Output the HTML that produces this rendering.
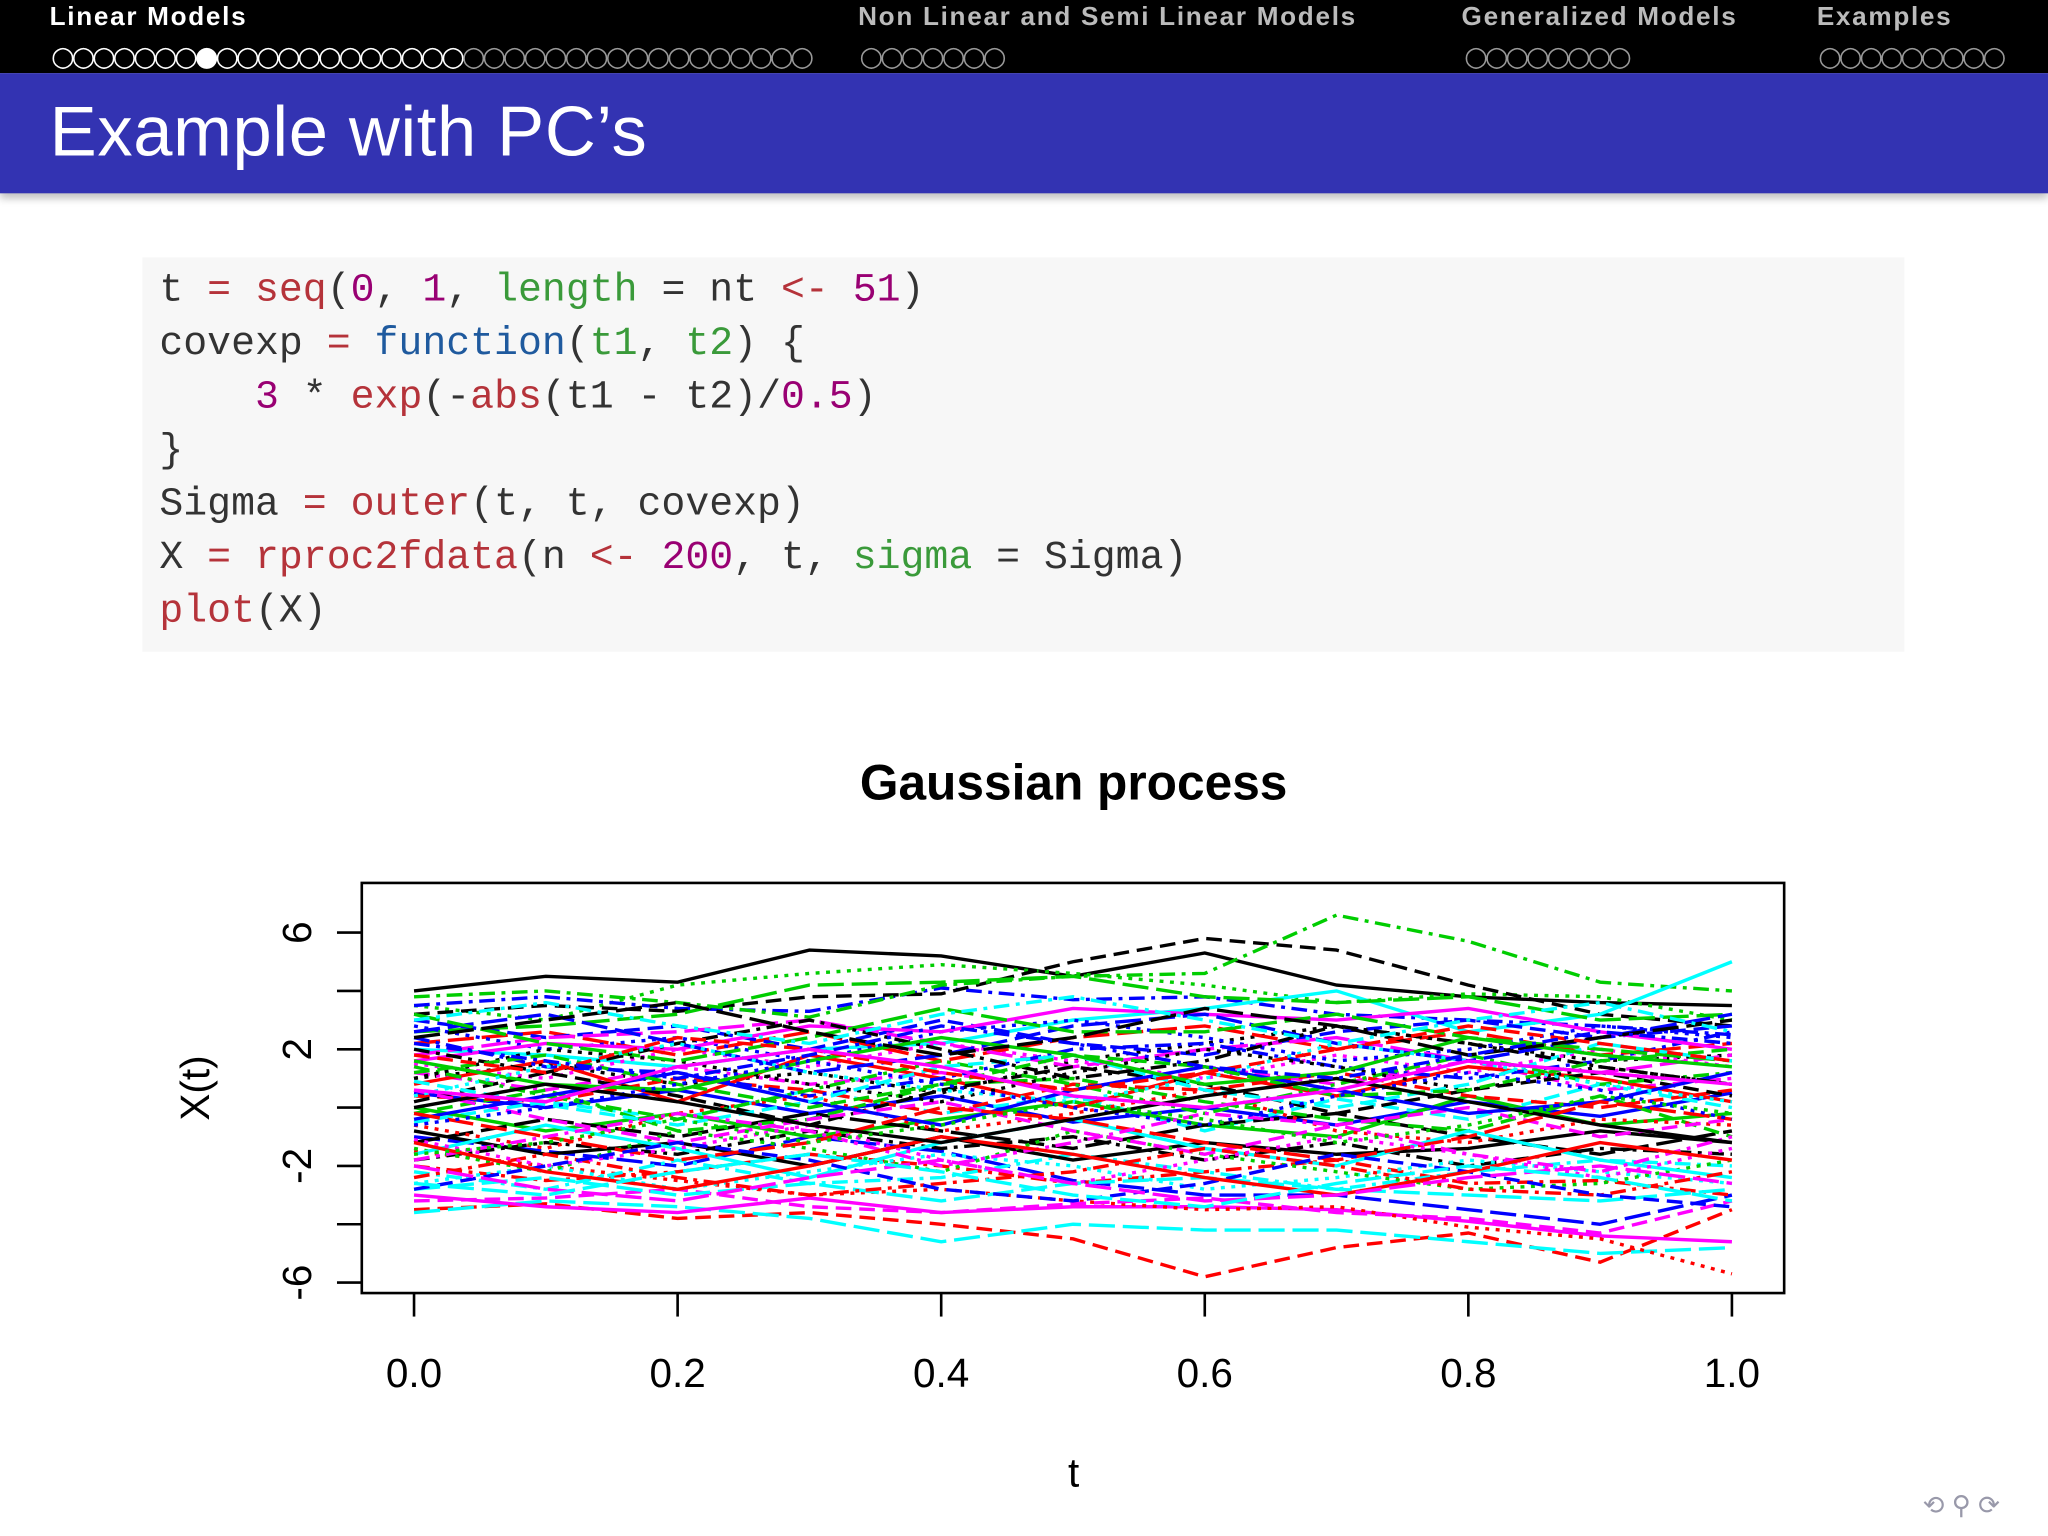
<!DOCTYPE html>
<html><head><meta charset="utf-8">
<style>
html,body{margin:0;padding:0;width:2048px;height:1536px;overflow:hidden;background:#fff}
#wrap{position:absolute;left:0;top:0;width:1568px;height:1176px;transform:scale(1.306122);transform-origin:0 0;font-family:"Liberation Sans",sans-serif}
.nav{position:absolute;color:#bbb;font-weight:bold;font-size:20px;top:2px;letter-spacing:1.3px}
.dots{position:absolute;top:31px;color:#999;font-size:21px;letter-spacing:-2.6px;font-family:"DejaVu Sans",sans-serif}
pre{margin:0;font-family:"Liberation Mono",monospace;font-size:30.5px;line-height:41px;color:#333}
.k{color:#b5333a}.n{color:#990073}.s{color:#3a9a3a}.f{color:#1f5a9e}
</style></head><body>
<div id="wrap">
<div style="position:absolute;left:0;top:0;width:1568px;height:56px;background:#000"></div>
<div class="nav" style="left:38px;color:#fff">Linear Models</div>
<div class="nav" style="left:657px">Non Linear and Semi Linear Models</div>
<div class="nav" style="left:1119px">Generalized Models</div>
<div class="nav" style="left:1391px">Examples</div>
<div class="dots" style="left:39px;color:#fff">○○○○○○○●○○○○○○○○○○○○<span style="color:#999">○○○○○○○○○○○○○○○○○</span></div>
<div class="dots" style="left:658px">○○○○○○○</div>
<div class="dots" style="left:1121px">○○○○○○○○</div>
<div class="dots" style="left:1392px">○○○○○○○○○</div>
<div style="position:absolute;left:0;top:56px;width:1568px;height:92px;background:#3333b2;box-shadow:0 4px 6px rgba(0,0,0,0.25)"></div>
<div style="position:absolute;left:38px;top:70px;color:#fff;font-size:54px;letter-spacing:0.5px">Example with PC’s</div>
<div style="position:absolute;left:109px;top:197px;width:1349px;height:302px;background:#f7f7f7">
<pre style="position:absolute;left:13px;top:6px">t <span class="k">=</span> <span class="k">seq</span>(<span class="n">0</span>, <span class="n">1</span>, <span class="s">length</span> = nt <span class="k">&lt;-</span> <span class="n">51</span>)
covexp <span class="k">=</span> <span class="f">function</span>(<span class="s">t1</span>, <span class="s">t2</span>) {
    <span class="n">3</span> * <span class="k">exp</span>(-<span class="k">abs</span>(t1 - t2)/<span class="n">0.5</span>)
}
Sigma <span class="k">=</span> <span class="k">outer</span>(t, t, covexp)
X <span class="k">=</span> <span class="k">rproc2fdata</span>(n <span class="k">&lt;-</span> <span class="n">200</span>, t, <span class="s">sigma</span> = Sigma)
<span class="k">plot</span>(X)</pre></div>
<svg id="chart" style="position:absolute;left:0;top:0" width="1568" height="1176"></svg>
<div style="position:absolute;left:1472px;top:1140px;color:#99a;font-size:20px">⟲ ⚲ ⟳</div>
</div>
<script>
const tVals=[0,0.1,0.2,0.3,0.4,0.5,0.6,0.7,0.8,0.9,1.0];
const xTicks=[0,0.2,0.4,0.6,0.8,1.0];
const xTickLabels=["0.0","0.2","0.4","0.6","0.8","1.0"];
const yTicks=[6,4,2,0,-2,-4,-6];
const yTickLabels=["6","","2","","-2","","-6"];
const seriesValues=[
[4,4.5,4.3,5.4,5.2,4.5,5.3,4.2,3.8,3.6,3.5],
[-3.5,-3.3,-3.8,-3.6,-4,-4.5,-5.8,-4.8,-4.3,-5.3,-3.5],
[3.5,3,4.2,4.6,4.9,4.6,4.2,3.6,3.9,3.8,3],
[3.5,3.8,3.4,3.3,4.1,3.7,3.8,3.2,3,2.8,2.5],
[-3.6,-3.2,-3.4,-3.8,-4.6,-4,-4.2,-4.2,-4.6,-5,-4.8],
[-3,-3.4,-3.6,-3.1,-3.6,-3.4,-3.4,-3.5,-3.9,-4.4,-4.6],
[3.2,3.5,3.3,3.8,3.9,5,5.8,5.4,4.2,3.2,2.8],
[-1.5,-2,-2.5,-3,-2.8,-3.2,-3.5,-3.4,-4.1,-4.5,-5.7],
[3.8,4,3.6,3.1,4.2,4.5,4.6,6.6,5.7,4.3,4],
[-1,-1.5,-2,-1,-1.5,-2.5,-3,-3,-3.5,-4,-3],
[2,1.8,1.4,2,2.2,3,3.4,4,2.6,3.2,5],
[-3.2,-3.1,-2.8,-3.4,-3.6,-3.3,-3.1,-3.6,-3.8,-4.3,-3.2],
[1,1.5,0.8,1.2,0.5,1.6,2.2,2.8,2.2,1.6,1.8],
[-2,-2.5,-2.2,-1.6,-2,-2.6,-2.2,-1.8,-2.6,-2.5,-3],
[2.6,2.8,3.2,4.2,4.3,4.5,3.8,3.6,3.8,3,3.2],
[0.5,0,0.6,-0.2,0.4,-0.5,0,-0.6,0.2,-0.3,0.5],
[-0.5,0.2,-0.4,0.6,-0.2,0.4,-0.8,0.3,-0.4,0.8,0],
[1.5,1,2,1.4,2.2,1.6,1,1.8,1.2,2,1.4],
[-1.8,-1.2,-1.6,-0.8,-1.4,-1,-1.8,-1.2,-2,-1.4,-1.6],
[2.2,2.6,1.8,2.6,1.6,2.4,2.8,2,2.6,1.8,2.2],
[0,-0.8,-0.2,-1,-0.4,0.2,-0.6,-1,0.4,-0.6,-0.2],
[3,2.4,2.8,2,3,2.2,1.8,2.6,3,2.4,2.8],
[-2.6,-2,-2.8,-2.2,-1.6,-2,-2.8,-2.4,-1.8,-2.2,-2.6],
[1.2,0.6,1.4,0.8,1.2,0.6,1.4,0.8,1.6,0.6,1],
[-1.2,-0.4,-1,-0.2,-0.8,-1.4,-0.6,-0.2,-1,-1.6,-0.8],
[0.8,1.6,0.2,1.8,1,0,1.2,0.4,1.4,1,0.2],
[-0.2,0.6,-0.8,-0.4,0.8,1,0.2,-0.4,-0.8,0.4,-1],
[2.8,2,2.4,1.6,2.6,3,2.4,1.6,2,2.8,2.4],
[-2.2,-2.8,-1.8,-2.6,-2.4,-1.6,-2.2,-2.8,-2.2,-1.8,-2],
[1.8,2.4,2.6,3,2.2,1.4,2,2.4,1.6,1.2,1.8],
[-0.8,-1.6,-1.2,-2,-1,-1.8,-1.2,-1.6,-1.4,-0.8,-1.2],
[0.4,0.2,1,0.6,-0.2,0.8,0.6,1.2,0.4,0,0.6],
[-1.4,-2.2,-0.8,-1.4,-2.2,-0.8,-1.6,-2.2,-2.8,-2.6,-1.8],
[2.4,1.4,1.2,0.4,1,2,2.2,1.4,1,1.6,2.6],
[-2.8,-2.4,-3,-2.6,-3.2,-2.6,-2.4,-2.8,-3,-3.2,-2.8],
[1.6,2.2,2,2.8,2.6,3.4,3.2,3,3.4,2.6,2],
[0.2,1.2,0.4,-0.6,0.6,1.4,0.8,-0.2,0.6,1.2,0.4],
[-0.6,-1.4,-0.2,0.4,-0.8,-0.2,0.6,-0.8,-1.2,-0.4,-0.6],
[1.4,0.4,-0.4,0.6,1.6,0.8,-0.2,0.8,1.8,0.8,1.2],
[2.6,3.2,2.2,1.2,1.8,2.8,3.2,2.2,1.6,2.4,3.2],
[-1.6,-0.6,-1.4,-2.4,-1.2,-0.4,-1.4,-2,-0.8,-1.8,-2.4],
[0.6,-0.4,-1.2,-0.4,0.2,-0.8,-1.6,-0.6,0,-1,-0.4],
[1,2,1.6,0.8,0.2,1.2,2,1.4,0.6,1.4,0.8],
[-2.4,-1.6,-2.4,-3,-2.6,-2.2,-1.4,-2,-2.8,-3,-2.2],
[3.2,2.2,1.6,2.4,3.4,2.6,2.6,3.2,2.4,2,1.6],
[-0.4,0.4,1.2,0.2,-0.6,0.6,1.4,0.6,-0.2,0.2,1.2],
[0.9,0.1,-0.6,0.2,1.4,1.8,0.6,0,0.8,2.2,1.6],
[-1.1,-2,-1.4,-0.6,-1.8,-2.6,-1.8,-1,-1.6,-2.4,-1.4],
[2,1.2,2.2,3,2,1,1.6,2.8,2.2,1.4,0.8],
[-0.2,-1,-1.8,-1.2,0,-0.4,-1.2,-1.8,-1,0.2,-0.4],
[1.6,0.8,0.6,1.6,2.4,1.8,0.8,1.2,2.4,1.8,1.4],
[-2.8,-2,-1.2,-1.8,-2.8,-3.2,-2.6,-1.6,-2.2,-3,-3.4],
[0.4,1.4,2.2,1.2,0.6,0.2,1,2.2,1.6,0.8,0.2],
[-1.8,-1,-0.2,-0.8,-2,-1.2,-0.2,-0.6,-1.6,-2.2,-1],
[2.4,3,3.6,2.6,1.8,2.4,3.4,2.8,1.8,2.4,3],
[-1.2,-2.2,-2.8,-2,-1,-1.6,-2.4,-3,-2.2,-1.2,-1.8],
[1.2,1.8,0.8,0,0.8,1.8,1.4,0.4,0.6,1.6,2],
[-0.6,0,0.8,1.6,0.8,0,-0.6,0.4,1.2,0.6,-0.4],
[3,3.6,2.8,2.2,3.2,3.8,3,2.2,3,3.6,2.6],
[-2,-2.8,-3.2,-2.4,-1.8,-2.6,-3.2,-3,-2.4,-2,-2.6],
[0,0.8,0.2,-0.6,-1.2,-0.4,0.4,1,0.2,-0.6,-1.2],
[1.8,1.2,2.4,2,1.2,0.6,1.2,2,2.8,2.2,1.6],
[-1.6,-1.2,-0.4,-1.2,-0.6,0.2,-0.4,-1.2,-0.6,0.4,-0.2],
[2.2,1.6,1,1.8,2.8,2.2,1.4,1,1.8,2.6,2.2],
[-2.6,-3,-2.2,-1.6,-2.2,-3,-3.4,-2.6,-2,-2.4,-3.2],
[0.6,0.2,1.4,2,1.4,0.4,0,0.6,1.6,1.2,0.8]
];
const colors=["#000","#f00","#00cd00","#00f","#0ff","#f0f"];
const dashes=["","12,6","3,5","12,5,3,5","20,6"];
const NS="http://www.w3.org/2000/svg";
const svg=document.getElementById('chart');
const X0=317,X1=1326,Y0=848,YS=22.33;
const xs=t=>X0+(X1-X0)*t, ys=v=>Y0-YS*v;
function mk(tag,attrs){const e=document.createElementNS(NS,tag);for(const k in attrs)e.setAttribute(k,attrs[k]);svg.appendChild(e);return e;}
const clip=mk('clipPath',{id:'pc'});const cr=document.createElementNS(NS,'rect');cr.setAttribute('x',278);cr.setAttribute('y',677);cr.setAttribute('width',1087);cr.setAttribute('height',312);clip.appendChild(cr);
seriesValues.forEach((s,i)=>{
 const p=mk('polyline',{points:s.map((v,j)=>xs(tVals[j])+','+ys(v)).join(' '),fill:'none',stroke:colors[i%6],'stroke-width':2.6,'stroke-dasharray':dashes[i%5],'clip-path':'url(#pc)'});
 
 
});
const box=mk('rect',{x:277,y:676,width:1089,height:314,fill:'none',stroke:'#000','stroke-width':2});


xTicks.forEach((t,i)=>{
 mk('line',{x1:xs(t),x2:xs(t),y1:990,y2:1008,stroke:'#000','stroke-width':2});
 const tx=mk('text',{x:xs(t),y:1062,'text-anchor':'middle','font-size':31,fill:'#000'});tx.textContent=xTickLabels[i];
 
 
});
yTicks.forEach((v,i)=>{
 mk('line',{x1:258,x2:277,y1:ys(v),y2:ys(v),stroke:'#000','stroke-width':2});
 if(yTickLabels[i]){const tx=mk('text',{x:0,y:0,transform:`translate(238,${ys(v)}) rotate(-90)`,'text-anchor':'middle','font-size':31,fill:'#000'});tx.textContent=yTickLabels[i];
 
 }
});
const ti=mk('text',{x:822,y:612,'text-anchor':'middle','font-size':38,'font-weight':'bold'});ti.textContent='Gaussian process';


const xl=mk('text',{x:822,y:1138,'text-anchor':'middle','font-size':31});xl.textContent='t';


const yl=mk('text',{x:0,y:0,transform:'translate(160,833) rotate(-90)','text-anchor':'middle','font-size':31});yl.textContent='X(t)';


</script>
</body></html>
